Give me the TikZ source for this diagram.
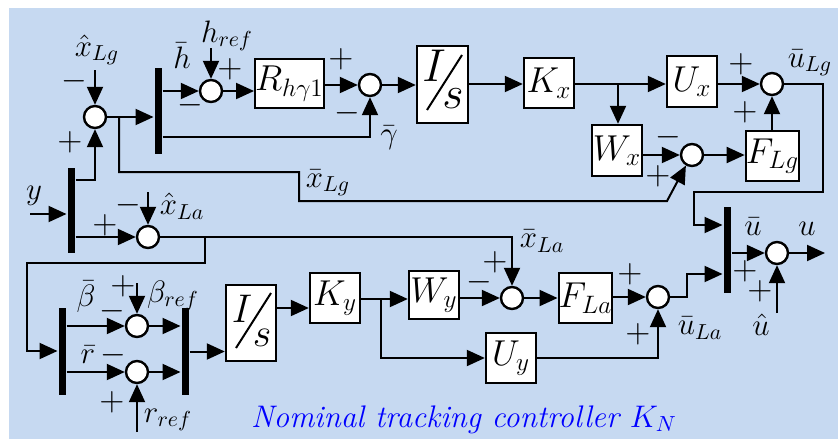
\documentclass[tikz,border=0pt]{standalone}
\usepackage{fix-cm}
\usepackage{amsmath}
\usetikzlibrary{arrows.meta}
\definecolor{bgc}{RGB}{198,217,241}
\begin{document}
\begin{tikzpicture}[x=0.5pt,y=-0.5pt, line width=1pt,
 arr/.style={-{Triangle[length=9pt,width=8pt]}},
 blk/.style={draw, fill=white, line width=1.2pt, inner sep=0pt, font=\fontsize{18}{20}\selectfont},
 sum/.style={circle, draw, fill=white, line width=1.2pt, minimum size=11pt, inner sep=0pt},
 vbar/.style={fill=black, minimum width=3.5pt, inner sep=0pt},
 lab/.style={inner sep=0pt, font=\fontsize{15.5}{17}\selectfont},
 sgn/.style={inner sep=0pt, font=\fontsize{16.5}{18}\selectfont}]
\useasboundingbox (0,0) rectangle (838,439);
\fill[bgc] (9,8) rectangle (838,439);

% bars
\node[vbar, minimum height=42.5pt] (B1) at (71,210.5) {};
\node[vbar, minimum height=43.5pt] (B2) at (62,351.5) {};
\node[vbar, minimum height=43.5pt] (B3) at (185,351.5) {};
\node[vbar, minimum height=43pt] (B5) at (158,111) {};
\node[vbar, minimum height=43pt] (B4) at (727,250) {};

% sums
\node[sum] (S1) at (95,117) {};
\node[sum] (S2) at (148,237) {};
\node[sum] (S8) at (211,91) {};
\node[sum] (S9) at (370,85) {};
\node[sum] (S10) at (772,84) {};
\node[sum] (S7) at (692,155) {};
\node[sum] (Sb) at (137,326) {};
\node[sum] (Sr) at (137,372) {};
\node[sum] (S4) at (512,298) {};
\node[sum] (S5) at (658,297) {};
\node[sum] (S6) at (777,253) {};

% blocks
\node[blk, minimum width=32.5pt, minimum height=24.5pt] (R) at (289.5,83.5) {$R_{h\gamma 1}$};
\node[blk, minimum width=25.5pt, minimum height=38.5pt] (Is1) at (442.5,84.5) {};
\node[blk, minimum width=25pt, minimum height=25pt] (Kx) at (549,83) {$K_x$};
\node[blk, minimum width=25pt, minimum height=25.5pt] (Ux) at (692,81.5) {$U_x$};
\node[blk, minimum width=25pt, minimum height=25.5pt] (Wx) at (617,150.5) {$W_x$};
\node[blk, minimum width=24.5pt, minimum height=25pt] (FLg) at (772.5,156) {$F_{Lg}$};
\node[blk, minimum width=25pt, minimum height=38pt] (Is2) at (251,323) {};
\node[blk, minimum width=25pt, minimum height=25pt] (Ky) at (335,298) {$K_y$};
\node[blk, minimum width=25pt, minimum height=24pt] (Wy) at (434,295) {$W_y$};
\node[blk, minimum width=24.5pt, minimum height=25pt] (FLa) at (585.5,298) {$F_{La}$};
\node[blk, minimum width=25pt, minimum height=25pt] (Uy) at (511,358) {$U_y$};

% I/s contents
\draw[line width=1pt] (427,110) -- (462,55);
\node[inner sep=0pt, font=\fontsize{23}{26}\selectfont] (I1) at (434,66) {$I$};
\node[inner sep=0pt, font=\fontsize{23}{26}\selectfont] (s1) at (453,99) {$s$};
\draw[line width=1pt] (236,348) -- (271,293);
\node[inner sep=0pt, font=\fontsize{20}{24}\selectfont] (I2) at (242,309) {$I$};
\node[inner sep=0pt, font=\fontsize{20}{24}\selectfont] (s2) at (262,338) {$s$};

% junction coordinates
\coordinate (yin) at (30,214);
\coordinate (j1) at (119,117);
\coordinate (j2) at (205,237);
\coordinate (j3) at (381,299);
\coordinate (j4) at (618,84);
\coordinate (uout) at (825,253);
\coordinate (uhat) at (777,313);

% connectors: top part
\draw[arr] (yin) -- (B1.west |- yin);
\draw[arr] (B1.east |- 0,180) -| (S1.south);
\draw[arr] (S1.north |- 0,70) -- (S1.north);
\draw[arr] (S1) -- (B5.west |- S1);
\draw[arr] (j1) |- (299,172) |- (667,201) -- (S7.240);
\draw[arr] (B5.east |- S8) -- (S8);
\draw[arr] (S8.north |- 0,48) -- (S8.north);
\draw[arr] (S8) -- (R.west |- S8);
\draw[arr] (R.east |- S9) -- (S9);
\draw[arr] (B5.east |- 0,137) -| (S9.south);
\draw[arr] (S9) -- (Is1.west |- S9);
\draw[arr] (Is1.east |- 0,84) -- (Kx.west |- 0,84);
\draw[arr] (Kx.east |- 0,84) -- (Ux.west |- 0,84);
\draw[arr] (j4) -- (Wx.north -| j4);
\draw[arr] (Ux.east |- S10) -- (S10);
\draw[arr] (Wx.east |- S7) -- (S7);
\draw[arr] (S7) -- (FLg.west |- S7);
\draw[arr] (FLg.north -| S10) -- (S10.south);
\draw[arr] (S10.east) -- (823,84) |- (694,192) |- (B4.west |- 0,225);

% connectors: bottom part
\draw[arr] (B1.east |- S2) -- (S2);
\draw[arr] (S2.north |- 0,192) -- (S2.north);
\draw[arr] (S2.east) -| (S4.north);
\draw[arr] (j2) |- (27,263) |- (B2.west |- 0,351);
\draw[arr] (B2.east |- Sb) -- (Sb);
\draw[arr] (B2.east |- Sr) -- (Sr);
\draw[arr] (Sb) -- (B3.west |- Sb);
\draw[arr] (Sr) -- (B3.west |- Sr);
\draw[arr] (Sb.north |- 0,283) -- (Sb.north);
\draw[arr] (Sr.south |- 0,432) -- (Sr.south);
\draw[arr] (B3.east) -- (Is2.west |- B3.east);
\draw[arr] (Is2.east |- 0,308) -- (Ky.west |- 0,308);
\draw[arr] (Ky.east |- 0,299) -- (Wy.west |- 0,299);
\draw[arr] (j3) |- (Uy.west);
\draw[arr] (Wy.east |- S4) -- (S4);
\draw[arr] (S4) -- (FLa.west |- S4);
\draw[arr] (FLa.east |- S5) -- (S5);
\draw[arr] (Uy.east) -| (S5.south);
\draw[arr] (S5.east) -- (687,297) |- (B4.west |- 0,274);
\draw[arr] (B4.east |- S6) -- (S6);
\draw[arr] (S6) -- (uout);
\draw[arr] (uhat) -- (S6.south);

% labels
\node[lab] (lxLg) at (97,50) {$\hat{x}_{Lg}$};
\node[lab] (ly) at (34,196) {$y$};
\node[lab] (lhbar) at (182,56) {$\bar{h}$};
\node[lab] (lhref) at (227,36) {$h_{ref}$};
\node[lab] (lgam) at (389,138) {$\bar{\gamma}$};
\node[lab] (lxbLg) at (328,183) {$\bar{x}_{Lg}$};
\node[lab] (luLg) at (810,63) {$\bar{u}_{Lg}$};
\node[lab] (lxLa) at (182,206) {$\hat{x}_{La}$};
\node[lab] (lxbLa) at (542,241) {$\bar{x}_{La}$};
\node[lab] (lbeta) at (86,297) {$\bar{\beta}$};
\node[lab] (lbref) at (173,296) {$\beta_{ref}$};
\node[lab] (lr) at (88,355) {$\bar{r}$};
\node[lab] (lrref) at (168,420) {$r_{ref}$};
\node[lab] (luLa) at (700,328) {$\bar{u}_{La}$};
\node[lab] (lub) at (753,227) {$\bar{u}$};
\node[lab] (lu) at (807,229) {$u$};
\node[lab] (luhat) at (761,325) {$\hat{u}$};

% signs
\node[sgn] (g1) at (74,81) {$-$};
\node[sgn] (g2) at (70,142) {$+$};
\node[sgn] (g3) at (230,69) {$+$};
\node[sgn] (g4) at (190,105) {$-$};
\node[sgn] (g5) at (341,59) {$+$};
\node[sgn] (g6) at (347,113) {$-$};
\node[sgn] (g7) at (741,64) {$+$};
\node[sgn] (g8) at (745,112) {$+$};
\node[sgn] (g9) at (668,137) {$-$};
\node[sgn] (g10) at (658,176) {$+$};
\node[sgn] (g11) at (105,225) {$+$};
\node[sgn] (g12) at (128,205) {$-$};
\node[sgn] (g13) at (112,311) {$-$};
\node[sgn] (g14) at (123,286) {$+$};
\node[sgn] (g15) at (113,355) {$-$};
\node[sgn] (g16) at (112,402) {$+$};
\node[sgn] (g17) at (479,282) {$-$};
\node[sgn] (g18) at (495,262) {$+$};
\node[sgn] (g19) at (630,274) {$+$};
\node[sgn] (g20) at (638,334) {$+$};
\node[sgn] (g21) at (745,271) {$+$};
\node[sgn] (g22) at (760,291) {$+$};

% title
\node[anchor=base west, inner sep=0pt, text=blue, font=\fontsize{15.6}{18}\selectfont\itshape] (title) at (250,427) {Nominal tracking controller $K_N$};
\end{tikzpicture}
\end{document}
